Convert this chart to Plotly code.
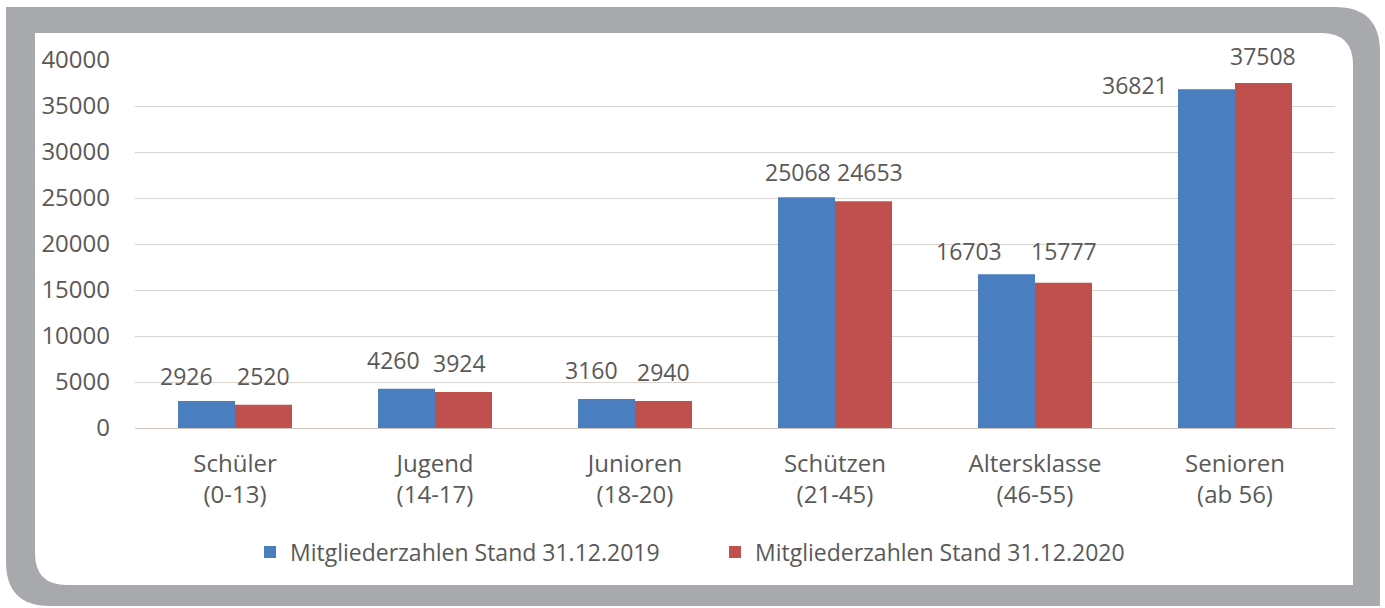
import plotly.graph_objects as go

categories = ["Schüler<br>(0-13)", "Jugend<br>(14-17)", "Junioren<br>(18-20)",
              "Schützen<br>(21-45)", "Altersklasse<br>(46-55)", "Senioren<br>(ab 56)"]
values_2019 = [2926, 4260, 3160, 25068, 16703, 36821]
values_2020 = [2520, 3924, 2940, 24653, 15777, 37508]
series_names = ["Mitgliederzahlen Stand 31.12.2019", "Mitgliederzahlen Stand 31.12.2020"]
y_ticks = [0, 5000, 10000, 15000, 20000, 25000, 30000, 35000, 40000]

# label placement nudges (pixels) relative to bar centre / bar top, as in the original
label_dx_2019 = [-20, -13, -15, -9, -38, -72]
label_dy_2019 = [25, 29, 29, 25, 23, 4]
label_dx_2020 = [0, -4, 0, 6, 0, -1]
label_dy_2020 = [29, 29, 29, 29, 32, 27]

W, H = 1385, 608
L, R, T, B = 135, 1335, 60, 428  # plot area in pixels

def px(x):
    return (x - L) / (R - L)

def py(y):
    return (B - y) / (B - T)

def path(points):
    s = ""
    for cmd, *c in points:
        if cmd == "Q":
            s += f"Q{px(c[0])},{py(c[1])} {px(c[2])},{py(c[3])} "
        elif cmd == "Z":
            s += "Z"
        else:
            s += f"{cmd}{px(c[0])},{py(c[1])} "
    return s

TEXT = "#595959"
FONT = "Open Sans"
BLUE = "#4a7ebf"
RED = "#c0504d"
BARGAP = 0.43

fig = go.Figure()
fig.add_trace(go.Bar(x=categories, y=values_2019, name=series_names[0],
                     marker=dict(color=BLUE, line=dict(width=0))))
fig.add_trace(go.Bar(x=categories, y=values_2020, name=series_names[1],
                     marker=dict(color=RED, line=dict(width=0))))

bar_half = (R - L) / len(categories) * (1 - BARGAP) / 4
annotations = []
for vals, sh, dxs, dys in ((values_2019, -bar_half, label_dx_2019, label_dy_2019),
                           (values_2020, bar_half, label_dx_2020, label_dy_2020)):
    for c, v, dx, dy in zip(categories, vals, dxs, dys):
        annotations.append(dict(x=c, y=v, xref="x", yref="y", text=str(v), showarrow=False,
                                xshift=sh + dx, yshift=dy, yanchor="middle",
                                font=dict(size=23, color=TEXT, family=FONT)))

outer = path([("M", 6, 7), ("L", 1335, 7), ("Q", 1380, 7, 1380, 52), ("L", 1380, 606),
              ("L", 50, 606), ("Q", 6, 606, 6, 562), ("Z",)])
inner = path([("M", 35, 33), ("L", 1321, 33), ("Q", 1353, 33, 1353, 65), ("L", 1353, 585),
              ("L", 67, 585), ("Q", 35, 585, 35, 553), ("Z",)])

fig.update_layout(
    width=W, height=H,
    margin=dict(l=L, r=W - R, t=T, b=H - B, pad=0),
    paper_bgcolor="white",
    plot_bgcolor="rgba(0,0,0,0)",
    barmode="group", bargap=BARGAP, bargroupgap=0,
    font=dict(family=FONT, size=24, color=TEXT),
    shapes=[
        dict(type="path", path=outer, xref="paper", yref="paper", fillcolor="#a8a9ac",
             line=dict(width=0), layer="below"),
        dict(type="path", path=inner, xref="paper", yref="paper", fillcolor="white",
             line=dict(width=0), layer="below"),
    ],
    annotations=annotations,
    legend=dict(orientation="h", x=px(250), xanchor="left", y=py(552), yanchor="middle",
                font=dict(size=23, color=TEXT, family=FONT), bgcolor="rgba(0,0,0,0)",
                entrywidth=420, entrywidthmode="pixels", itemclick=False),
    showlegend=True,
)
fig.update_xaxes(showgrid=False, showline=False, ticks="", tickfont=dict(size=24, color=TEXT),
                 ticklabelstandoff=19)
fig.update_yaxes(range=[0, 40000], tickvals=y_ticks, ticktext=[str(t) for t in y_ticks],
                 showgrid=True, gridcolor="#dcd3cf", gridwidth=1,
                 zeroline=True, zerolinecolor="#cfc3bd", zerolinewidth=1,
                 showline=False, ticks="", ticklabelstandoff=24,
                 tickfont=dict(size=24, color=TEXT))

fig.write_html("out.html", config={"displayModeBar": False},
               post_script="document.body.style.margin='0';")
